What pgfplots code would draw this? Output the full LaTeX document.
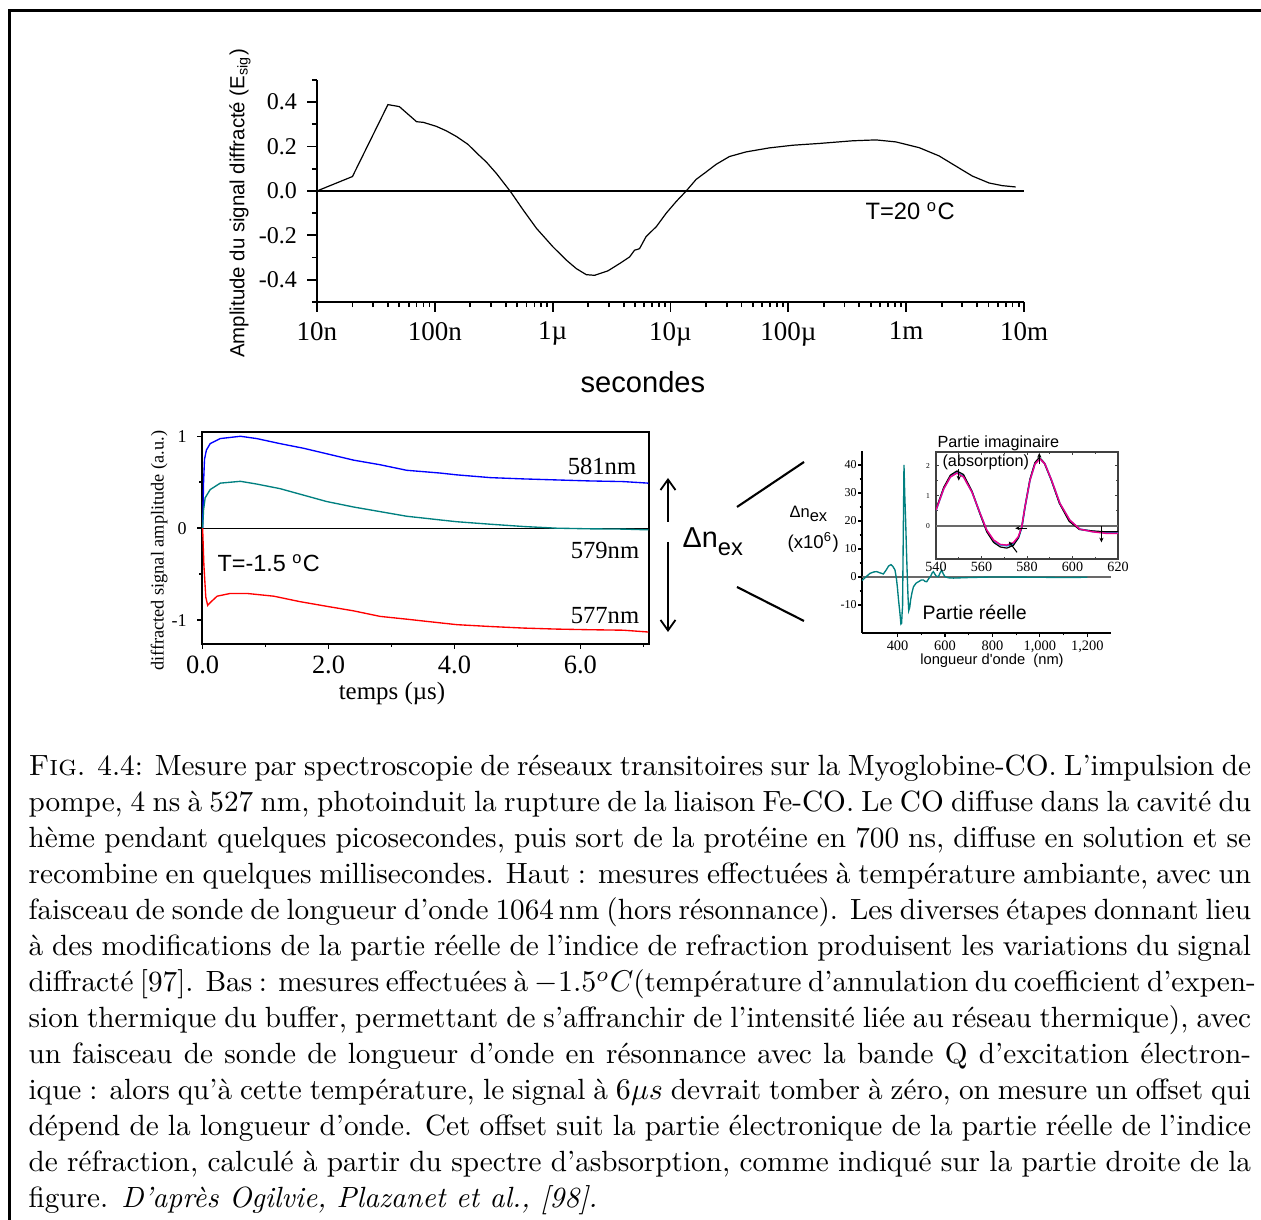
\documentclass[border=0pt]{standalone}
\usepackage{fontspec}
\usepackage{pgfplots}
\pgfplotsset{compat=1.18}
\usetikzlibrary{arrows.meta}
\newfontfamily\tms{Liberation Serif}
\newfontfamily\arl{Liberation Sans}
\newcommand\fs[2]{\fontsize{#1}{#2}\selectfont}
\definecolor{tealc}{RGB}{0,128,128}
\definecolor{grayz}{RGB}{105,105,105}
\pgfplotsset{/pgf/number format/assume math mode=true}
% one justified caption line, baseline given in pixels from the top
\newcommand\capline[2]{\node[anchor=base west,inner sep=0pt] at (28,{1220-#1}) {\fs{9.75}{12}\makebox[407.5pt][s]{#2}};}

\begin{document}
\begin{tikzpicture}[x=0.33333pt,y=0.33333pt]
\useasboundingbox (0,0) rectangle (1261,1220);
\fill[white] (0,0) rectangle (1261,1220);
\draw[line width=1pt] (9.3,0) -- (9.3,1209.7) -- (1261,1209.7);

% ---------- top: log time scale ----------
\begin{axis}[
  at={(105.667pt,306pt)}, anchor=south west, scale only axis,
  width=235.67pt, height=74pt,
  xmode=log, xmin=1e-8, xmax=1e-2, ymin=-0.5, ymax=0.5,
  axis lines=left, axis line style={-, line width=0.65pt},
  tick align=outside, tick style={black, line width=0.6pt},
  major tick length=3.2pt, minor tick length=1.7pt,
  xtick={1e-8,1e-7,1e-6,1e-5,1e-4,1e-3,1e-2},
  xticklabels={10n,100n,1µ,10µ,100µ,1m,10m},
  ytick={-0.4,-0.2,0,0.2,0.4},
  minor ytick={-0.5,-0.3,-0.1,0.1,0.3,0.5},
  yticklabel style={/pgf/number format/fixed,/pgf/number format/fixed zerofill,/pgf/number format/precision=1},
  xticklabel style={font=\tms\fs{9}{9}},
  yticklabel style={font=\tms\fs{8}{8}},
  xlabel={secondes},
  xlabel style={font=\arl\fs{9.7}{10}, at={(axis description cs:0.461,-0.36)}, anchor=center},
  ylabel={Amplitude du signal diffracté (E\textsubscript{sig})},
  ylabel style={font=\arl\fs{6.8}{7}, at={(axis description cs:-0.109,0.444)}, anchor=center},
]
\addplot[black, line width=0.6pt] coordinates {(1e-8,0) (1e-2,0)};
\addplot[black, line width=0.4pt] coordinates {
(1e-8,0.0) (2e-8,0.065) (4e-8,0.389) (5e-8,0.38) (7e-8,0.312) (8e-8,0.309)
(1.03e-7,0.291) (1.25e-7,0.271) (1.53e-7,0.245) (1.91e-7,0.21) (2.33e-7,0.165)
(2.74e-7,0.13) (3.33e-7,0.079) (4.05e-7,0.021) (4.47e-7,-0.009) (5.61e-7,-0.085)
(7.28e-7,-0.168) (1.007e-6,-0.252) (1.31e-6,-0.312) (1.59e-6,-0.35) (1.93e-6,-0.377)
(2.27e-6,-0.38) (2.94e-6,-0.36) (3.7e-6,-0.327) (4.5e-6,-0.297) (4.95e-6,-0.267)
(5.46e-6,-0.26) (6.2e-6,-0.206) (7.6e-6,-0.16) (9.2e-6,-0.1) (1.12e-5,-0.047)
(1.36e-5,0.0) (1.65e-5,0.052) (2.0e-5,0.085) (2.44e-5,0.12) (3.16e-5,0.155)
(4.38e-5,0.176) (6.9e-5,0.194) (1.09e-4,0.206) (1.83e-4,0.214) (3.51e-4,0.226)
(5.53e-4,0.23) (8.17e-4,0.221) (1.29e-3,0.195) (1.9e-3,0.158) (2.64e-3,0.112)
(3.65e-3,0.067) (5.05e-3,0.036) (6.55e-3,0.024) (8.5e-3,0.018)};
\end{axis}
\node[anchor=base west, inner sep=0pt, font=\arl\fs{7.9}{8}] at (865,{1220-220}) {T=20 \textsuperscript{o}C};

% ---------- bottom left: transients ----------
\begin{axis}[
  at={(67.333pt,192pt)}, anchor=south west, scale only axis,
  width=149pt, height=70.67pt,
  xmin=-0.01, xmax=7.09, ymin=-1.26, ymax=1.047,
  axis line style={line width=0.5pt},
  tick align=outside, xtick pos=bottom, ytick pos=left,
  tick style={black, line width=0.5pt},
  major tick length=1.6pt, minor tick length=1pt,
  xtick={0,2,4,6}, minor xtick={1,3,5,7},
  ytick={-1,0,1}, minor ytick={-0.5,0.5},
  xticklabel style={/pgf/number format/fixed,/pgf/number format/fixed zerofill,/pgf/number format/precision=1},
  xticklabel style={font=\tms\fs{8.8}{9}, yshift=1.2pt},
  yticklabel style={font=\tms\fs{6}{6}},
  xlabel={temps (µs)},
  xlabel style={font=\tms\fs{8.3}{9}, at={(axis description cs:0.425,-0.236)}, anchor=center},
  ylabel={diffracted signal amplitude (a.u.)},
  ylabel style={font=\tms\fs{6.1}{7}, at={(axis description cs:-0.096,0.439)}, anchor=center},
]
\addplot[black, line width=0.4pt] coordinates {(-0.01,0) (7.09,0)};
\addplot[blue, line width=0.45pt] coordinates {
(0,0) (0.015,0.5) (0.03,0.75) (0.06,0.85) (0.12,0.92) (0.28,0.975) (0.6,1.0)
(0.86,0.975) (1.23,0.92) (1.6,0.87) (1.97,0.81) (2.4,0.74) (2.82,0.69) (3.24,0.63)
(3.77,0.6) (4.04,0.58) (4.57,0.55) (5.1,0.536) (5.62,0.525) (6.15,0.514) (6.68,0.507) (7.08,0.49)};
\addplot[tealc, line width=0.45pt] coordinates {
(0,0) (0.015,0.2) (0.04,0.33) (0.12,0.42) (0.28,0.49) (0.6,0.51) (0.86,0.48)
(1.23,0.43) (1.6,0.36) (1.97,0.29) (2.4,0.23) (2.82,0.18) (3.24,0.13) (3.77,0.09)
(4.04,0.07) (4.57,0.043) (5.1,0.018) (5.62,0.0) (6.15,-0.007) (6.68,-0.01) (7.08,-0.018)};
\addplot[red, line width=0.45pt] coordinates {
(0,0) (0.02,-0.4) (0.05,-0.75) (0.08,-0.84) (0.12,-0.81) (0.23,-0.74) (0.44,-0.71)
(0.7,-0.71) (1.13,-0.74) (1.55,-0.8) (1.97,-0.85) (2.4,-0.9) (2.82,-0.96) (3.24,-0.99)
(3.77,-1.03) (4.04,-1.05) (4.57,-1.07) (5.1,-1.087) (5.62,-1.098) (6.15,-1.105) (6.68,-1.11) (7.08,-1.13)};
\end{axis}
\node[font=\tms\fs{8.2}{9}] at (602,{1220-466}) {581nm};
\node[font=\tms\fs{8.2}{9}] at (605,{1220-550}) {579nm};
\node[font=\tms\fs{8.2}{9}] at (605,{1220-616}) {577nm};
\node[anchor=base west, inner sep=0pt, font=\arl\fs{7.8}{8}] at (217,{1220-571.7}) {T=-1.5 \textsuperscript{o}C};

% ---------- Delta n arrows ----------
\draw[line width=0.6pt, -{Straight Barb[length=3.5pt,width=5pt]}] (668,{1220-522}) -- (668,{1220-478});
\draw[line width=0.6pt, -{Straight Barb[length=3.5pt,width=5pt]}] (668,{1220-542}) -- (668,{1220-632});
\node[anchor=base west, inner sep=0pt, font=\arl\fs{9.6}{10}] at (682,{1220-548}) {Δn\raisebox{-2.6pt}{\fs{7.9}{8}ex}};
\draw[line width=0.7pt] (737,{1220-507}) -- (804,{1220-462});
\draw[line width=0.7pt] (737,{1220-587}) -- (804,{1220-621});

% ---------- bottom right: real part ----------
\begin{axis}[
  at={(287.333pt,195.667pt)}, anchor=south west, scale only axis,
  width=83pt, height=60.67pt,
  xmin=250, xmax=1300, ymin=-20, ymax=45,
  axis lines=left, axis line style={-, line width=0.4pt},
  tick align=outside, tick style={black, line width=0.4pt},
  major tick length=1.3pt, minor tick length=0.8pt,
  xtick={400,600,800,1000,1200}, xticklabels={400,600,800,{1,000},{1,200}},
  minor x tick num=1,
  ytick={-10,0,10,20,30,40}, minor y tick num=1,
  xticklabel style={font=\tms\fs{4.8}{5}, yshift=2.3pt},
  yticklabel style={font=\tms\fs{4}{4}, xshift=3pt},
  xlabel={longueur d'onde\ \ (nm)},
  xlabel style={font=\arl\fs{4.9}{5}, at={(axis description cs:0.522,-0.154)}, anchor=center},
]
\addplot[grayz, line width=0.5pt] coordinates {(250,0) (1300,0)};
\addplot[tealc, line width=0.45pt] coordinates {
(250,-1.3) (270,0.3) (284,1.3) (300,1.8) (312,1.9) (325,1.5) (340,1.07) (352,2.5)
(362,3.9) (372,4.4) (380,3.8) (389,2.5) (395,-0.5) (399,-3.5) (404,-8.2) (410,-13)
(414,-16.8) (417,-16.5) (419,-13) (421,-10.6) (424,15) (427,40) (430,30) (434,20)
(438,8) (441,0.1) (444,-7) (447,-12) (451,-11) (455,-8.2) (461,-5.5) (467,-3.5)
(478,-2.2) (488,-1.7) (500,-1.1) (509,-1.07) (516,-1.6) (523,-1.7) (532,-0.5)
(540,0.36) (546,1.5) (551,1.9) (556,1.2) (562,0.36) (567,0.2) (572,0.1) (578,1.2)
(586,2.5) (592,1.2) (600,0.1) (615,-0.3) (635,-0.4) (700,-0.2) (800,0) (1000,-0.1)
(1100,-0.2) (1200,-0.1)};
\end{axis}
\node[anchor=base west, inner sep=0pt, font=\arl\fs{5.5}{6}] at (789,{1220-518}) {Δn\raisebox{-1.3pt}{ex}};
\node[anchor=base west, inner sep=0pt, font=\arl\fs{6.2}{7}] at (787,{1220-549}) {(x10\textsuperscript{6})};
\node[anchor=base west, inner sep=0pt, font=\arl\fs{6.5}{7}] at (922,{1220-620}) {Partie réelle};

% ---------- inset: imaginary part ----------
\begin{axis}[
  at={(312pt,220.333pt)}, anchor=south west, scale only axis,
  width=60.67pt, height=35.67pt,
  xmin=540, xmax=620, ymin=-1.1, ymax=2.45,
  axis background/.style={fill=white},
  axis line style={line width=0.4pt, black!75},
  tick style={black!75, line width=0.3pt},
  major tick length=1pt, minor tick length=0.6pt,
  xtick={540,560,580,600,620}, minor x tick num=1,
  ytick={0,1,2}, minor y tick num=1,
  xticklabel style={font=\tms\fs{4.7}{5}, yshift=2.6pt},
  yticklabel style={font=\tms\fs{2.5}{3}, xshift=1.5pt},
]
\addplot[grayz, line width=0.5pt] coordinates {(540,0) (620,0)};
\addplot[cyan, line width=0.6pt] coordinates {
(540,0.52) (543.4,1.24) (546.3,1.63) (549.2,1.77) (552.1,1.64) (555.8,1.13) (559.4,0.4)
(562.3,-0.16) (565.3,-0.5) (568.2,-0.63) (571.1,-0.66) (574,-0.6) (576.2,-0.4)
(577.7,-0.05) (579.1,0.62) (581.3,1.52) (583.5,2.07) (585.6,2.24) (587.8,2.06)
(590.7,1.52) (594.4,0.74) (598.7,0.18) (603.1,-0.11) (609,-0.19) (615,-0.23) (620,-0.23)};
\addplot[black, line width=0.4pt] coordinates {
(540,0.55) (543.4,1.28) (546.3,1.68) (549.2,1.82) (552.1,1.7) (555.8,1.15) (559.4,0.38)
(562.3,-0.2) (565.3,-0.55) (568.2,-0.7) (571.1,-0.74) (574,-0.65) (576.2,-0.4)
(577.7,-0.05) (579.1,0.62) (581.3,1.55) (583.5,2.1) (585.4,2.27) (587.5,2.1)
(590.5,1.55) (594.2,0.75) (598.5,0.15) (603,-0.12) (609,-0.17) (615,-0.2) (620,-0.2)};
\addplot[magenta, line width=0.5pt] coordinates {
(540,0.52) (543.4,1.23) (546.3,1.62) (549.2,1.75) (552.1,1.62) (555.8,1.12) (559.4,0.41)
(562.3,-0.14) (565.3,-0.47) (568.2,-0.62) (571.1,-0.64) (574,-0.56) (576.2,-0.36)
(577.7,-0.03) (579.1,0.63) (581.3,1.51) (583.5,2.05) (585.7,2.22) (587.9,2.05)
(590.8,1.51) (594.5,0.74) (598.8,0.19) (603.2,-0.11) (609,-0.2) (614.9,-0.25) (620,-0.25)};
\draw[black, line width=0.35pt, -{Stealth[length=1.6pt,width=1.4pt]}] (axis cs:550,1.88) -- (axis cs:550,1.5);
\draw[black, line width=0.35pt, -{Stealth[length=1.6pt,width=1.4pt]}] (axis cs:585.4,2.05) -- (axis cs:585.4,2.42);
\draw[black, line width=0.35pt, -{Stealth[length=1.6pt,width=1.4pt]}] (axis cs:580.2,-0.08) -- (axis cs:574.8,-0.08);
\draw[black, line width=0.35pt, -{Stealth[length=1.6pt,width=1.4pt]}] (axis cs:575.6,-0.88) -- (axis cs:572,-0.52);
\draw[black, line width=0.35pt, -{Stealth[length=1.6pt,width=1.4pt]}] (axis cs:612.7,-0.02) -- (axis cs:612.7,-0.55);
\end{axis}
\node[anchor=base west, inner sep=0pt, font=\arl\fs{5.4}{6}] at (937,{1220-448}) {Partie imaginaire};
\node[anchor=base west, inner sep=0pt, font=\arl\fs{5.4}{6}] at (942,{1220-467}) {(absorption)};

% ---------- caption ----------
\capline{776}{\textsc{Fig}. 4.4: Mesure par spectroscopie de réseaux transitoires sur la Myoglobine-CO. L'impulsion de}
\capline{812}{pompe, 4 ns à 527 nm, photoinduit la rupture de la liaison Fe-CO. Le CO diffuse dans la cavité du}
\capline{848}{hème pendant quelques picosecondes, puis sort de la protéine en 700 ns, diffuse en solution et se}
\capline{884}{recombine en quelques millisecondes. Haut : mesures effectuées à température ambiante, avec un}
\capline{920}{faisceau de sonde de longueur d'onde 1064\,nm (hors résonnance). Les diverses étapes donnant lieu}
\capline{956}{à des modifications de la partie réelle de l'indice de refraction produisent les variations du signal}
\capline{992}{diffracté [97]. Bas : mesures effectuées à $-1.5^oC$(température d'annulation du coefficient d'expen-}
\capline{1028}{sion thermique du buffer, permettant de s'affranchir de l'intensité liée au réseau thermique), avec}
\capline{1064}{un faisceau de sonde de longueur d'onde en résonnance avec la bande Q d'excitation électron-}
\capline{1100}{ique : alors qu'à cette température, le signal à $6\mu s$ devrait tomber à zéro, on mesure un offset qui}
\capline{1136}{dépend de la longueur d'onde. Cet offset suit la partie électronique de la partie réelle de l'indice}
\capline{1172}{de réfraction, calculé à partir du spectre d'asbsorption, comme indiqué sur la partie droite de la}
\node[anchor=base west,inner sep=0pt] at (28,{1220-1208}) {\fs{9.75}{12}figure. \textit{D'après Ogilvie, Plazanet et al., [98].}};
\end{tikzpicture}
\end{document}
